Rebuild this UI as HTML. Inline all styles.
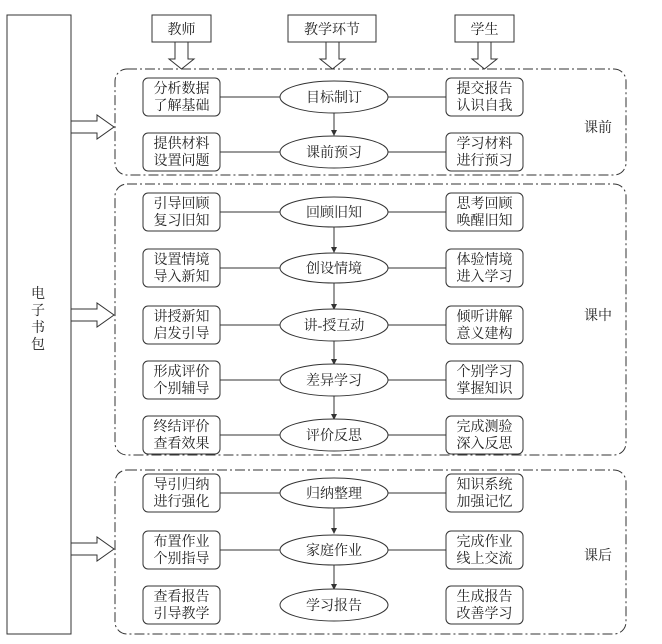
<!DOCTYPE html>
<html><head><meta charset="utf-8"><style>
html,body{margin:0;padding:0;background:#fff;width:662px;height:644px;overflow:hidden}
svg text{font-family:"Liberation Serif","Noto Serif CJK SC","Noto Sans CJK SC",serif;font-size:14px;fill:#222}
</style></head><body>
<svg width="662" height="644" viewBox="0 0 662 644" xmlns="http://www.w3.org/2000/svg">
<defs><marker id="ah" markerWidth="6" markerHeight="6" refX="5" refY="3" orient="auto"><path d="M0,0 L6,3 L0,6 z" fill="#333"/></marker></defs>
<g stroke="#333" fill="none" stroke-width="1">
<rect x="7" y="15" width="64" height="619"/>
<rect x="152" y="15" width="59" height="27"/>
<rect x="288" y="15" width="88" height="27"/>
<rect x="455" y="15" width="59" height="27"/>
<!-- down hollow arrows -->
<path d="M175,42 V59 H169 L181.5,69 L194,59 H188 V42"/>
<path d="M326,42 V59 H320 L332.5,69 L345,59 H339 V42"/>
<path d="M478,42 V59 H472 L484.5,69 L497,59 H491 V42"/>
<!-- left hollow arrows -->
<path d="M71,121 H97 V115 L114,127 L97,139 V133 H71"/>
<path d="M71,309 H97 V303 L114,315 L97,327 V321 H71"/>
<path d="M71,543 H97 V537 L114,549 L97,561 V555 H71"/>
<!-- sections -->
<g stroke-dasharray="10,3,2,3">
<rect x="115" y="69" width="511" height="106" rx="12"/>
<rect x="115" y="184" width="511" height="271" rx="12"/>
<rect x="115" y="470" width="511" height="164" rx="12"/>
</g>
</g>
<text x="38" y="298" text-anchor="middle">电</text>
<text x="38" y="315" text-anchor="middle">子</text>
<text x="38" y="332" text-anchor="middle">书</text>
<text x="38" y="349" text-anchor="middle">包</text>
<text x="181.5" y="34" text-anchor="middle">教师</text>
<text x="332" y="34" text-anchor="middle">教学环节</text>
<text x="484.5" y="34" text-anchor="middle">学生</text>
<text x="598" y="132" text-anchor="middle">课前</text>
<text x="598" y="320" text-anchor="middle">课中</text>
<text x="598" y="560" text-anchor="middle">课后</text>
<g id="rows"></g>
<g stroke="#333" fill="none" stroke-width="1">
<!-- verticals -->
<path d="M334,113 V135" marker-end="url(#ah)"/>
<path d="M334,227 V252" marker-end="url(#ah)"/>
<path d="M334,283 V309" marker-end="url(#ah)"/>
<path d="M334,341 V364" marker-end="url(#ah)"/>
<path d="M334,396 V419" marker-end="url(#ah)"/>
<path d="M334,508 V533" marker-end="url(#ah)"/>
<path d="M334,565 V589" marker-end="url(#ah)"/>
<!-- horizontals -->
<path d="M220,97 H280 M388,97 H446"/>
<path d="M220,152 H280 M388,152 H446"/>
<path d="M220,212 H280 M388,212 H446"/>
<path d="M220,268 H280 M388,268 H446"/>
<path d="M220,325 H280 M388,325 H446"/>
<path d="M220,380 H280 M388,380 H446"/>
<path d="M220,435 H280 M388,435 H446"/>
<path d="M220,493 H280 M388,493 H446"/>
<path d="M220,550 H280 M388,550 H446"/>
<!-- boxes -->
<rect x="143" y="78" width="77" height="38" rx="5"/><rect x="446" y="78" width="77" height="38" rx="5"/>
<rect x="143" y="133" width="77" height="38" rx="5"/><rect x="446" y="133" width="77" height="38" rx="5"/>
<rect x="143" y="193" width="77" height="38" rx="5"/><rect x="446" y="193" width="77" height="38" rx="5"/>
<rect x="143" y="249" width="77" height="38" rx="5"/><rect x="446" y="249" width="77" height="38" rx="5"/>
<rect x="143" y="306" width="77" height="38" rx="5"/><rect x="446" y="306" width="77" height="38" rx="5"/>
<rect x="143" y="361" width="77" height="38" rx="5"/><rect x="446" y="361" width="77" height="38" rx="5"/>
<rect x="143" y="416" width="77" height="38" rx="5"/><rect x="446" y="416" width="77" height="38" rx="5"/>
<rect x="143" y="474" width="77" height="38" rx="5"/><rect x="446" y="474" width="77" height="38" rx="5"/>
<rect x="143" y="531" width="77" height="38" rx="5"/><rect x="446" y="531" width="77" height="38" rx="5"/>
<rect x="143" y="586" width="77" height="38" rx="5"/><rect x="446" y="586" width="77" height="38" rx="5"/>
<!-- ellipses -->
<ellipse cx="334" cy="97" rx="54" ry="16" fill="#fff"/>
<ellipse cx="334" cy="152" rx="54" ry="16" fill="#fff"/>
<ellipse cx="334" cy="212" rx="54" ry="15" fill="#fff"/>
<ellipse cx="334" cy="268" rx="54" ry="15" fill="#fff"/>
<ellipse cx="334" cy="325" rx="54" ry="16" fill="#fff"/>
<ellipse cx="334" cy="380" rx="54" ry="16" fill="#fff"/>
<ellipse cx="334" cy="435" rx="54" ry="16" fill="#fff"/>
<ellipse cx="334" cy="493" rx="54" ry="15" fill="#fff"/>
<ellipse cx="334" cy="550" rx="54" ry="15" fill="#fff"/>
<ellipse cx="334" cy="605" rx="54" ry="16" fill="#fff"/>
</g>
<g text-anchor="middle">
<text x="334" y="102">目标制订</text><text x="334" y="157">课前预习</text>
<text x="334" y="217">回顾旧知</text><text x="334" y="273">创设情境</text>
<text x="334" y="330">讲-授互动</text><text x="334" y="385">差异学习</text>
<text x="334" y="440">评价反思</text><text x="334" y="498">归纳整理</text>
<text x="334" y="555">家庭作业</text><text x="334" y="610">学习报告</text>

<text x="181.5" y="93">分析数据</text><text x="181.5" y="110">了解基础</text>
<text x="484.5" y="93">提交报告</text><text x="484.5" y="110">认识自我</text>
<text x="181.5" y="148">提供材料</text><text x="181.5" y="165">设置问题</text>
<text x="484.5" y="148">学习材料</text><text x="484.5" y="165">进行预习</text>
<text x="181.5" y="208">引导回顾</text><text x="181.5" y="225">复习旧知</text>
<text x="484.5" y="208">思考回顾</text><text x="484.5" y="225">唤醒旧知</text>
<text x="181.5" y="264">设置情境</text><text x="181.5" y="281">导入新知</text>
<text x="484.5" y="264">体验情境</text><text x="484.5" y="281">进入学习</text>
<text x="181.5" y="321">讲授新知</text><text x="181.5" y="338">启发引导</text>
<text x="484.5" y="321">倾听讲解</text><text x="484.5" y="338">意义建构</text>
<text x="181.5" y="376">形成评价</text><text x="181.5" y="393">个别辅导</text>
<text x="484.5" y="376">个别学习</text><text x="484.5" y="393">掌握知识</text>
<text x="181.5" y="431">终结评价</text><text x="181.5" y="448">查看效果</text>
<text x="484.5" y="431">完成测验</text><text x="484.5" y="448">深入反思</text>
<text x="181.5" y="489">导引归纳</text><text x="181.5" y="506">进行强化</text>
<text x="484.5" y="489">知识系统</text><text x="484.5" y="506">加强记忆</text>
<text x="181.5" y="546">布置作业</text><text x="181.5" y="563">个别指导</text>
<text x="484.5" y="546">完成作业</text><text x="484.5" y="563">线上交流</text>
<text x="181.5" y="601">查看报告</text><text x="181.5" y="618">引导教学</text>
<text x="484.5" y="601">生成报告</text><text x="484.5" y="618">改善学习</text>
</g>
</svg>
</body></html>
